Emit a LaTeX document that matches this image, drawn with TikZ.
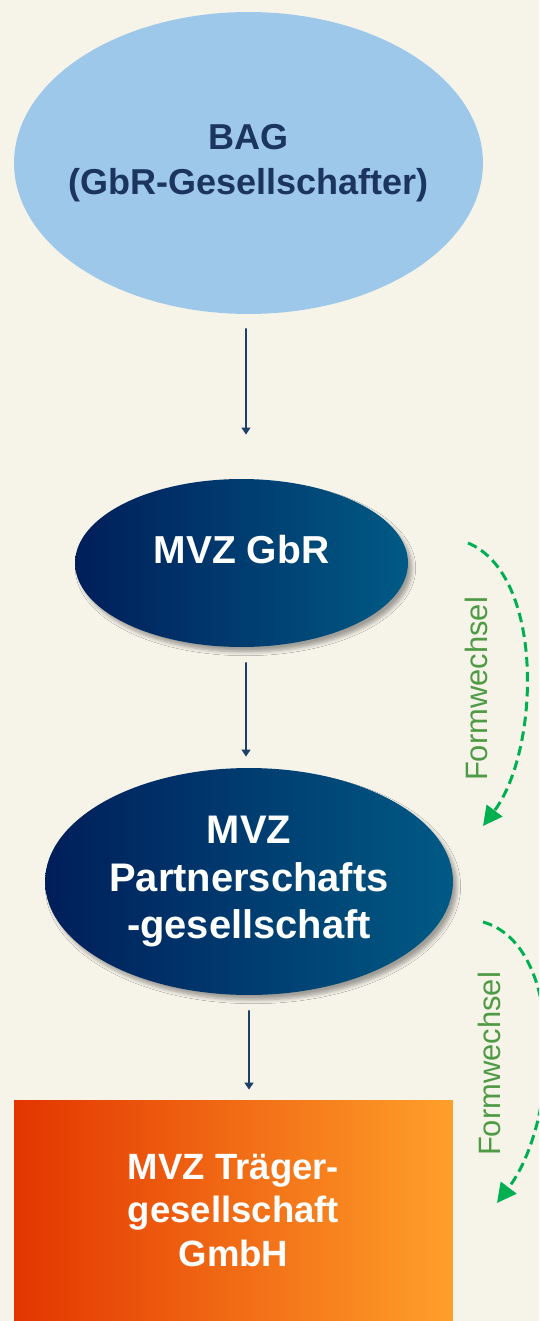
\documentclass[tikz,border=0pt]{standalone}
\usepackage{fontspec}
\setmainfont{Liberation Sans}
\usetikzlibrary{shapes.geometric, arrows.meta, calc, shadows.blur}
\definecolor{bgcream}{HTML}{F6F3E9}
\definecolor{bagblue}{HTML}{9DC8EA}
\definecolor{bagtext}{HTML}{1B3560}
\definecolor{mvzleft}{HTML}{001E5A}
\definecolor{mvzright}{HTML}{005A85}
\definecolor{gmbhleft}{HTML}{E33500}
\definecolor{gmbhright}{HTML}{FFA02A}
\definecolor{arrowblue}{HTML}{1F3F6B}
\definecolor{wechselgreen}{HTML}{00B050}
\definecolor{wechseltext}{HTML}{4F9A45}

\begin{document}
\begin{tikzpicture}[x=0.02cm, y=-0.02cm,
  bagstyle/.style={ellipse, fill=bagblue, inner ysep=0pt, inner xsep=-0.3cm, text=bagtext, align=center,
    font=\bfseries\fontsize{20.5}{25.6}\selectfont},
  mvzstyle/.style={ellipse, left color=mvzleft, right color=mvzright, inner sep=0pt, text=white, align=center,
    blur shadow={shadow xshift=0.08cm, shadow yshift=-0.1cm, shadow blur steps=6, shadow opacity=35}},
  gmbhstyle/.style={rectangle, left color=gmbhleft, right color=gmbhright, inner sep=0pt, text=white, align=center,
    font=\bfseries\fontsize{20.8}{25}\selectfont},
  flow/.style={draw=arrowblue, line width=1.1pt, -{Triangle[width=5pt,length=4pt]}},
  wechsel/.style={draw=wechselgreen, line width=1.7pt, dash pattern=on 5.5pt off 3pt, -{Triangle[width=11pt,length=11pt]}},
  wechsellabel/.style={rotate=90, text=wechseltext, font=\fontsize{17.6}{20}\selectfont}]
    \clip (0,0) rectangle (539,1321);
    \fill[bgcream] (0,0) rectangle (539,1321);
    % boxes
    \node[bagstyle, minimum width=9.38cm, minimum height=6.04cm] (bag) at (248.5,163) {BAG\\(GbR-Gesellschafter)};
    \node[mvzstyle, minimum width=6.66cm, minimum height=3.36cm, text depth=0.53cm,
      font=\bfseries\fontsize{22.2}{26}\selectfont] (gbr) at (241.5,563) {MVZ GbR};
    \node[mvzstyle, minimum width=8.16cm, minimum height=4.54cm,
      font=\bfseries\fontsize{22.7}{27.3}\selectfont] (partner) at (249,881.5) {MVZ\\Partnerschafts\\-gesellschaft};
    \node[gmbhstyle, minimum width=8.78cm, minimum height=4.42cm] (gmbh) at (233.5,1210.5) {MVZ Tr\"ager-\\gesellschaft\\GmbH};
    % arrows
    \draw[flow] ($(bag.south)+(-2.5,14)$) -- ($(gbr.north)+(4.5,-44)$);
    \draw[flow] ($(gbr.south)+(4.5,15)$) -- ($(partner.north)+(-3,-11)$);
    \draw[flow] ($(partner.south)+(0,15)$) -- ($(gmbh.north)+(15.5,-10)$);
    % Formwechsel
    \coordinate (fw1s) at (468,543);
    \coordinate (fw1e) at (483,826);
    \coordinate (fw2s) at (483,922);
    \coordinate (fw2e) at (497,1203);
    \draw[wechsel] (fw1s) .. controls (545,575) and (540,750) .. (fw1e);
    \draw[wechsel] (fw2s) .. controls (565,945) and (560,1120) .. (fw2e);
    \node[wechsellabel] (fw1) at (476,689) {Formwechsel};
    \node[wechsellabel] (fw2) at (489,1064) {Formwechsel};
\end{tikzpicture}
\end{document}
